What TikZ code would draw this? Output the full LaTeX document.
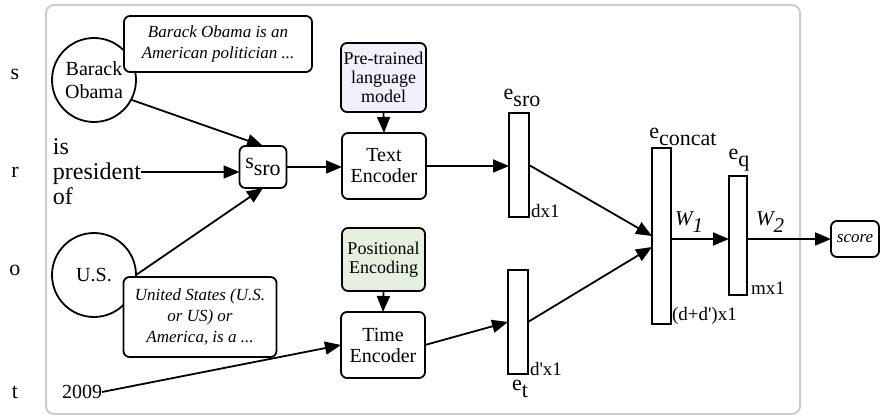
\documentclass[tikz,border=0pt]{standalone}
\usepackage{fontspec}
\setmainfont{Liberation Serif}
\usetikzlibrary{arrows.meta,calc}
\definecolor{frame}{HTML}{CCCCCC}
\definecolor{lmfill}{HTML}{F2F0FA}
\definecolor{pefill}{HTML}{E6F0E0}
% lowered, near full-size subscript
\newcommand\lsub[1]{\raisebox{-3.2pt}{#1}}

\begin{document}
\begin{tikzpicture}[x=0.5pt,y=-0.5pt,
  every node/.style={inner sep=0pt, outer sep=0pt},
  box/.style={draw, line width=0.9pt, rounded corners=3pt, fill=white, align=center,
    font=\fontsize{10}{10.5}\selectfont},
  side/.style={box, font=\fontsize{9}{9.6}\selectfont},
  desc/.style={box, font=\fontsize{8.5}{10.5}\selectfont\itshape},
  ent/.style={draw, circle, line width=0.9pt, fill=white, minimum size=42pt, align=center,
    font=\fontsize{10}{11.5}\selectfont},
  vec/.style={draw, line width=0.9pt, fill=white},
  arr/.style={line width=0.9pt, -{Triangle[length=8pt,width=6.5pt]}},
  lbl/.style={font=\fontsize{11}{12}\selectfont},
  dim/.style={font=\fontsize{9.5}{11}\selectfont, anchor=base west},
  wlbl/.style={font=\fontsize{10.5}{12}\selectfont\itshape},
]
\useasboundingbox (0,0) rectangle (884,416);

% surrounding panel
\draw[line width=1pt, draw=frame, rounded corners=4pt] (46,5) rectangle (800,414);

% triple / time labels
\node[lbl] (ls) at (15,74) {s};
\node[lbl] (lr) at (15,172) {r};
\node[lbl] (lo) at (15,270) {o};
\node[lbl] (lt) at (15,392) {t};

% subject entity and its description
\node[ent] (bo) at (94,80) {Barack\\Obama};
\node[desc, minimum width=94pt, minimum height=28pt] (d1) at (218,44)
  {Barack Obama is an\\American politician ...};

% relation
\node[align=left, anchor=west, font=\fontsize{12}{12.5}\selectfont] (rel) at (53,172)
  {is\\president\\of};

% object entity and its description
\node[ent] (us) at (94,275) {U.S.};
\node[desc, minimum width=76.5pt, minimum height=40pt] (d2) at (200,317)
  {United States (U.S.\\or US) or\\America, is a ...};

% timestamp
\node[font=\fontsize{10}{12}\selectfont] (yr) at (82,392) {2009};

% triple sentence
\node[box, minimum width=23.5pt, minimum height=21pt, font=\fontsize{11}{12}\selectfont]
  (ssro) at (263,167) {s\lsub{sro}};

% encoders
\node[side, fill=lmfill, minimum width=42.5pt, minimum height=34.5pt] (plm) at (383.5,77.5)
  {Pre-trained\\language\\model};
\node[box, minimum width=42pt, minimum height=33pt] (te) at (384,166) {Text\\Encoder};
\node[side, fill=pefill, minimum width=41.5pt, minimum height=31.5pt] (pe) at (383.5,259.5)
  {Positional\\Encoding};
\node[box, minimum width=42pt, minimum height=33pt] (tm) at (383,345) {Time\\Encoder};

% embedding vectors
\node[vec, minimum width=10pt, minimum height=52pt] (esro) at (519,165) {};
\node[vec, minimum width=10pt, minimum height=52pt] (et) at (518,322) {};
\node[vec, minimum width=9.5pt, minimum height=88pt] (ec) at (661.5,236) {};
\node[vec, minimum width=9pt, minimum height=59.5pt] (eq) at (738,235.5) {};

% vector names and sizes
\node[lbl] (esrol) at (522,98) {e\lsub{sro}};
\node[dim] (esrod) at (531,218) {dx1};
\node[lbl] (etl) at (520,389) {e\lsub{t}};
\node[dim] (etd) at (530,376) {d\textquotesingle x1};
\node[lbl] (ecl) at (683,137) {e\lsub{concat}};
\node[dim] (ecd) at (672,321) {(d+d\textquotesingle)x1};
\node[lbl] (eql) at (739,160) {e\lsub{q}};
\node[dim] (eqd) at (751,295) {mx1};

% output
\node[box, minimum width=24pt, minimum height=18pt, font=\fontsize{8.5}{10}\selectfont\itshape]
  (score) at (855,239) {score};

% weight labels
\node[wlbl] (w1) at (689,222) {W\lsub{1}};
\node[wlbl] (w2) at (770,222) {W\lsub{2}};

% connectors
\draw[arr] (bo.-28) -- (ssro.north);
\draw[arr] (rel.east) -- (rel.east -| ssro.west);
\draw[arr] (us.east) -- (ssro.south);
\draw[arr] (ssro.east) -- (ssro.east -| te.west);
\draw[arr] (plm.south) -- (te.north);
\draw[arr] (te.east) -- (te.east -| esro.west);
\draw[arr] (pe.south) -- (tm.north);
\draw[arr] (yr.east) -- (tm.west);
\draw[arr] (tm.east) -- (et.west);
\draw[arr] (esro.east) -- (ec.west);
\draw[arr] (et.east) -- ($(ec.west)+(0,11)$);
\draw[arr] (ec.east |- score.west) -- (eq.west |- score.west);
\draw[arr] (eq.east |- score.west) -- (score.west);
\end{tikzpicture}
\end{document}
